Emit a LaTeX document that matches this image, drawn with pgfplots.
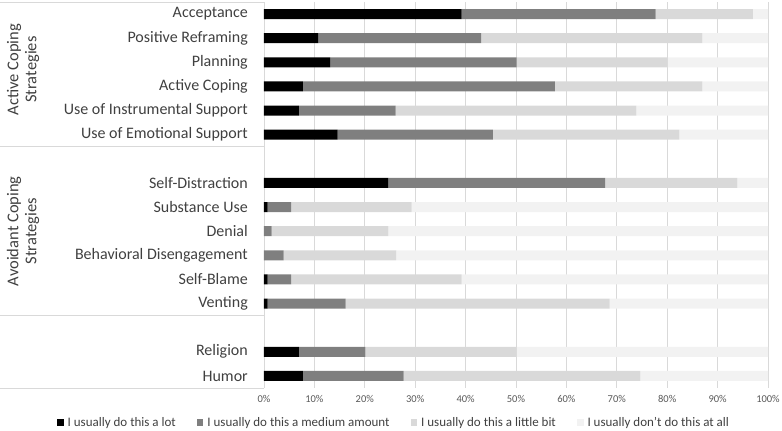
\documentclass[border=0pt]{standalone}
\usepackage{pgfplots}
\pgfplotsset{compat=1.18}
\usepackage{pgfplotstable}
\usepackage{fontspec}
\setmainfont{Carlito}
\definecolor{cLot}{HTML}{000000}
\definecolor{cMed}{HTML}{7F7F7F}
\definecolor{cLittle}{HTML}{D9D9D9}
\definecolor{cNone}{HTML}{F2F2F2}
\definecolor{gridc}{HTML}{D9D9D9}
\definecolor{txt}{HTML}{404040}
\definecolor{ticktxt}{HTML}{595959}

\pgfplotstableread{
pos lot med little none
0  39.2 38.5 19.3 3.0
1  10.8 32.3 43.9 13.0
2  13.1 37.0 30.0 19.9
3  7.7  50.0 29.3 13.0
4  6.9  19.2 47.8 26.1
5  14.6 30.8 37.0 17.6
7  24.7 43.0 26.2 6.1
8  0.74 4.66 23.9 70.7
9  0.0  1.5  23.2 75.3
10 0.0  3.9  22.3 73.8
11 0.74 4.66 33.8 60.8
12 0.74 15.46 52.4 31.4
14 6.9  13.2 30.0 49.9
15 7.7  20.0 47.0 25.3
}\data

\begin{document}
\begin{tikzpicture}
\path[use as bounding box] (-264pt,-43pt) rectangle (518pt,388pt);
\begin{axis}[
  at={(0pt,0pt)}, anchor=south west,
  scale only axis, width=504pt, height=386pt,
  xbar stacked, bar width=10pt,
  xmin=0, xmax=100, ymin=-0.5, ymax=15.5, y dir=reverse,
  axis line style={draw=none},
  tick style={draw=none},
  xmajorgrids, grid style={gridc, line width=0.75pt},
  xtick={0,10,...,100},
  xticklabels={0\%,10\%,20\%,30\%,40\%,50\%,60\%,70\%,80\%,90\%,100\%},
  xticklabel style={font=\fontsize{10.5}{12}\selectfont, text=ticktxt, yshift=-4pt},
  ytick={0,1,2,3,4,5,7,8,9,10,11,12,14,15},
  yticklabels={Acceptance,Positive Reframing\hspace{3pt},Planning,Active Coping\hspace{3pt},Use of Instrumental Support,Use of Emotional Support\hspace{3pt},Self-Distraction,Substance Use,Denial,Behavioral Disengagement,Self-Blame,Venting,Religion,Humor},
  yticklabel style={font=\fontsize{16}{18}\selectfont, text=txt, anchor=east, inner sep=0pt, xshift=-16pt},
  legend columns=4,
  legend style={at={(rel axis cs:0.26,-0.09)}, anchor=center, draw=none, fill=none,
    font=\fontsize{13}{15}\selectfont, text=txt,
    nodes={inner xsep=4pt, inner ysep=1pt},
    /tikz/every even column/.append style={column sep=17pt}},
  legend image code/.code={\fill[#1] (0pt,-3.3pt) rectangle (6.6pt,3.3pt);},
  clip=false,
]
\addplot+[draw=none, fill=cLot] table[x=lot, y=pos] {\data};
\addplot+[draw=none, fill=cMed] table[x=med, y=pos] {\data};
\addplot+[draw=none, fill=cLittle] table[x=little, y=pos] {\data};
\addplot+[draw=none, fill=cNone] table[x=none, y=pos] {\data};
\legend{I usually do this a lot, I usually do this a medium amount, I usually do this a little bit, I usually don't do this at all}

\draw[gridc, line width=0.75pt] ([xshift=-264pt]axis cs:0,-0.5) -- (axis cs:0,-0.5);
\draw[gridc, line width=0.75pt] ([xshift=-264pt]axis cs:0,5.5) -- (axis cs:0,5.5);
\draw[gridc, line width=0.75pt] ([xshift=-264pt]axis cs:0,12.5) -- (axis cs:0,12.5);
\draw[gridc, line width=0.75pt] ([xshift=-264pt]axis cs:0,15.5) -- (axis cs:0,15.5);
\node[rotate=90, align=center, text=txt, font=\fontsize{16.5}{18}\selectfont] at ([xshift=-241pt]axis cs:0,2.3) {Active Coping\\Strategies};
\node[rotate=90, align=center, text=txt, font=\fontsize{16.5}{18}\selectfont] at ([xshift=-241pt]axis cs:0,9) {Avoidant Coping\\Strategies};
\end{axis}
\end{tikzpicture}
\end{document}
